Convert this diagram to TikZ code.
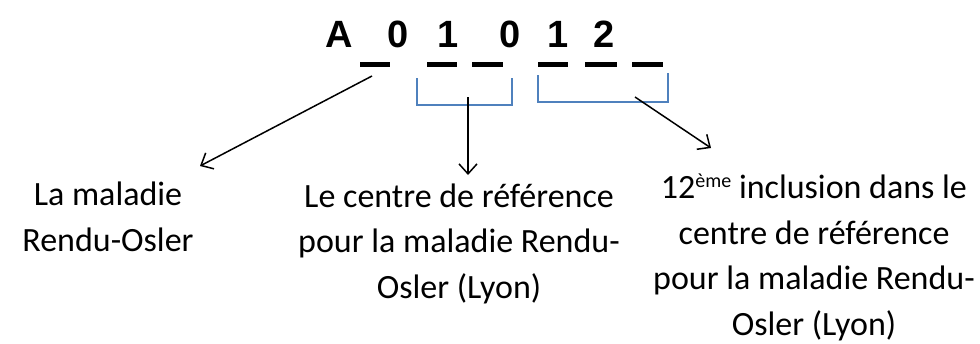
\documentclass[tikz,border=0pt]{standalone}
\usepackage{fontspec}
\setmainfont{Carlito}
\newfontfamily\titlefont{Liberation Sans}
\usetikzlibrary{arrows.meta}
\definecolor{bracketblue}{RGB}{79,129,189}
\begin{document}
\begin{tikzpicture}[x=1pt,y=-1pt,
  digit/.style={font=\titlefont\bfseries\fontsize{38}{40}\selectfont, inner sep=0pt, anchor=base},
  slot/.style={line width=5pt},
  brace/.style={draw=bracketblue,line width=2pt},
  pointer/.style={draw=black,line width=1.5pt,-{Straight Barb[length=10pt,width=18pt]}},
  desc/.style={font=\fontsize{34}{45.5}\selectfont,align=center,inner sep=0pt,anchor=base}]
\useasboundingbox (0,0) rectangle (980,343);
% code characters
\node[digit] (c1) at (339,47) {A};
\node[digit] (c2) at (398,47) {0};
\node[digit] (c3) at (448,47) {1};
\node[digit] (c4) at (510,47) {0};
\node[digit] (c5) at (558,47) {1};
\node[digit] (c6) at (604,47) {2};
% slots
\draw[slot] (360,64) -- (390,64);
\draw[slot] (427,64) -- (457,64);
\draw[slot] (472,64) -- (503,64);
\draw[slot] (538,64) -- (568,64);
\draw[slot] (585,64) -- (617,64);
\draw[slot] (632,64) -- (663,64);
% brackets
\draw[brace] (417,78) -- (417,105) -- (512,105) -- (512,78);
\draw[brace] (538,75) -- (538,102) -- (668,102) -- (668,73);
% descriptions (base anchor = last line baseline)
\node[desc] (d1) at (108,251) {La maladie\\Rendu-Osler};
\node[desc] (d2) at (459,298) {Le centre de référence\\pour la maladie Rendu-\\Osler (Lyon)};
\node[desc] (d3) at (814,335) {12{\fontsize{20}{20}\selectfont\raisebox{11pt}{ème}} inclusion dans le\\centre de référence\\pour la maladie Rendu-\\Osler (Lyon)};
% arrows
\coordinate (a1s) at (372,76);
\coordinate (a1e) at (200,166);
\coordinate (a2s) at (468,97);
\coordinate (a2e) at (468,175);
\coordinate (a3s) at (635,97);
\coordinate (a3e) at (711,148);
\draw[pointer] (a1s) -- (a1e);
\draw[pointer] (a2s) -- (a2e);
\draw[pointer] (a3s) -- (a3e);
\end{tikzpicture}
\end{document}
